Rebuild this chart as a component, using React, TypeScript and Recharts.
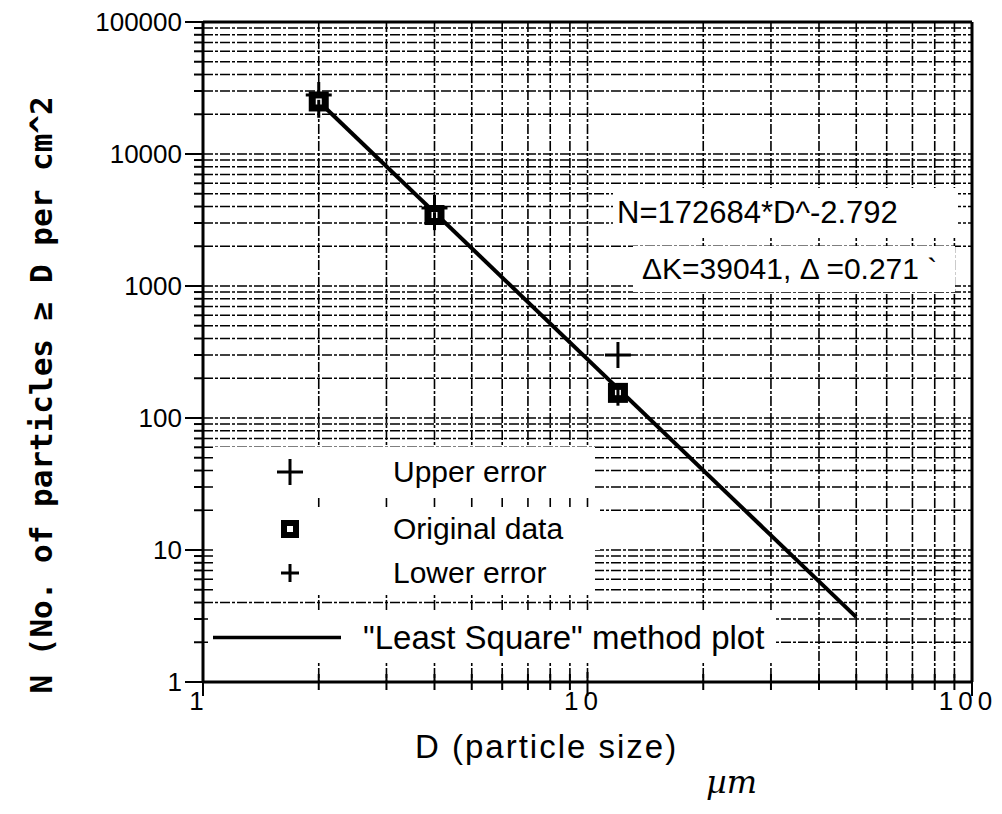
import React from "react";
import { ScatterChart, Scatter, XAxis, YAxis, CartesianGrid, ReferenceLine, Legend } from "recharts";

// particle sizes (um) and counts
const sizes = [2, 4, 12];
const original = [25000, 3450, 155];
const upperErr = [28000, 3900, 300];
const lowerErr = [22000, 3100, 145];

// least square fit line end points
const fitSizes = [2, 50];
const fitCounts = [25000, 3.1];

const xDecades = [1, 10, 100];
const yDecades = [1, 10, 100, 1000, 10000, 100000];
const minorSteps = [1, 2, 3, 4, 5, 6, 7, 8, 9];

const xTicks = [...xDecades.slice(0, -1).flatMap((d) => minorSteps.map((m) => d * m)), 100];
const yTicks = [...yDecades.slice(0, -1).flatMap((d) => minorSteps.map((m) => d * m)), 100000];

const NAME_UP = "Upper error";
const NAME_ORIG = "Original data";
const NAME_LOW = "Lower error";
const NAME_FIT = '"Least Square" method plot';

const toPoints = (xs: number[], ys: number[]) => xs.map((D, i) => ({ D, N: ys[i] }));

const sans = "'Liberation Sans', Arial, sans-serif";

const YTick = (props: any) => {
  const { x, y, payload } = props;
  const major = yDecades.includes(payload.value);
  return (
    <g>
      <line x1={x - (major ? 18 : 9)} x2={x} y1={y} y2={y} stroke="#000" strokeWidth={2} />
      {major && (
        <text x={x - 21} y={y} textAnchor="end" dominantBaseline="central" fontSize={26} fontFamily={sans} fill="#000">
          {payload.value}
        </text>
      )}
    </g>
  );
};

const XTick = (props: any) => {
  const { x, y, payload } = props;
  const major = xDecades.includes(payload.value);
  return (
    <g>
      <line x1={x} x2={x} y1={y - (major ? 10 : 8)} y2={y + (major ? 14 : 8)} stroke="#000" strokeWidth={2} />
      {major && (
        <text x={x - 4} y={y + 19} textAnchor="middle" dominantBaseline="central" fontSize={26} fontFamily={sans} letterSpacing={5} fill="#000">
          {payload.value}
        </text>
      )}
    </g>
  );
};

const SquareMark = (p: any) => (
  <g>
    <rect x={p.cx - 10} y={p.cy - 10} width={20} height={20} fill="#000" />
    <rect x={p.cx - 3} y={p.cy - 3} width={6} height={6} fill="#fff" />
  </g>
);

const PlusMark = (arm: number) => (p: any) => (
  <g stroke="#000" strokeWidth={3}>
    <line x1={p.cx - arm} x2={p.cx + arm} y1={p.cy} y2={p.cy} />
    <line x1={p.cx} x2={p.cx} y1={p.cy - arm} y2={p.cy + arm} />
  </g>
);

const NoMark = () => <g />;

const legendIcon = (name: string) => {
  if (name === NAME_UP)
    return (
      <svg width={30} height={30}>
        <line x1={2} x2={28} y1={15} y2={15} stroke="#000" strokeWidth={3} />
        <line x1={15} x2={15} y1={2} y2={28} stroke="#000" strokeWidth={3} />
      </svg>
    );
  if (name === NAME_ORIG)
    return (
      <svg width={30} height={30}>
        <rect x={6} y={6} width={18} height={18} fill="#000" />
        <rect x={12} y={12} width={6} height={6} fill="#fff" />
      </svg>
    );
  if (name === NAME_LOW)
    return (
      <svg width={30} height={30}>
        <line x1={6} x2={24} y1={15} y2={15} stroke="#000" strokeWidth={3} />
        <line x1={15} x2={15} y1={6} y2={24} stroke="#000" strokeWidth={3} />
      </svg>
    );
  return (
    <svg width={128} height={10}>
      <line x1={0} x2={128} y1={5} y2={5} stroke="#000" strokeWidth={3.5} />
    </svg>
  );
};

const legendOrder = [NAME_UP, NAME_ORIG, NAME_LOW, NAME_FIT];
const rowBoxes: Record<string, any> = {
  [NAME_UP]: { top: 0, left: 7, width: 380, height: 50 },
  [NAME_ORIG]: { top: 60, left: 7, width: 385, height: 43 },
  [NAME_LOW]: { top: 103, left: 7, width: 380, height: 45 },
  [NAME_FIT]: { top: 164, left: 0, width: 567, height: 51 },
};

const LegendBox = ({ payload }: any) => {
  const items = [...(payload || [])].sort(
    (a: any, b: any) => legendOrder.indexOf(a.value) - legendOrder.indexOf(b.value)
  );
  return (
    <div style={{ position: "relative", width: 570, height: 215 }}>
      {items.map((it: any) => {
        const box = rowBoxes[it.value];
        const isFit = it.value === NAME_FIT;
        return (
          <div
            key={it.value}
            style={{ position: "absolute", ...box, background: "#fff", fontFamily: sans, fontSize: isFit ? 33 : 30, color: "#000" }}
          >
            <div style={{ position: "absolute", left: isFit ? 5 : 60, top: "50%", transform: "translateY(-50%)", lineHeight: 0 }}>
              {legendIcon(it.value)}
            </div>
            <div style={{ position: "absolute", left: isFit ? 155 : 178, top: "50%", transform: "translateY(-50%)", whiteSpace: "nowrap", lineHeight: 1 }}>
              {it.value}
            </div>
          </div>
        );
      })}
    </div>
  );
};

export default function App() {
  return (
    <div style={{ position: "absolute", left: 0, top: 0, width: 1002, height: 814, background: "#fff" }}>
      <ScatterChart width={1002} height={814} margin={{ top: 22, right: 30, bottom: 82, left: 23 }}>
        <CartesianGrid stroke="#000" strokeWidth={1.6} strokeDasharray="10 2 3 2" />
        <XAxis
          type="number"
          dataKey="D"
          scale="log"
          domain={[1, 100]}
          ticks={xTicks}
          interval={0}
          height={50}
          tickSize={0}
          tickMargin={0}
          tickLine={false}
          tick={<XTick />}
          stroke="#000"
          strokeWidth={3}
          allowDataOverflow
          label={{
            content: () => (
              <g>
                <text x={415} y={758} fontSize={33} letterSpacing={2} fontFamily={sans} fill="#000">
                  D (particle size)
                </text>
                <text x={706} y={793} fontSize={32} fontStyle="italic" fontFamily="'DejaVu Serif', serif" fill="#000">
                  µm
                </text>
              </g>
            ),
          }}
        />
        <YAxis
          type="number"
          dataKey="N"
          scale="log"
          domain={[1, 100000]}
          ticks={yTicks}
          interval={0}
          width={180}
          tickSize={0}
          tickMargin={0}
          tickLine={false}
          tick={<YTick />}
          stroke="#000"
          strokeWidth={3}
          allowDataOverflow
          label={{
            content: () => (
              <text
                x={41}
                y={395}
                transform="rotate(-90, 41, 395)"
                textAnchor="middle"
                dominantBaseline="central"
                fontSize={31}
                fontWeight="bold"
                fontFamily="'DejaVu Sans Mono', monospace"
                fill="#000"
              >
                N (No. of particles ≥ D per cm^2
              </text>
            ),
          }}
        />
        <ReferenceLine y={100000} stroke="#000" strokeWidth={3} />
        <ReferenceLine x={100} stroke="#000" strokeWidth={3} />
        <Scatter
          name={NAME_FIT}
          data={toPoints(fitSizes, fitCounts)}
          line={{ stroke: "#000", strokeWidth: 4 }}
          shape={NoMark}
          legendType="line"
          isAnimationActive={false}
        />
        <Scatter name={NAME_UP} data={toPoints(sizes, upperErr)} shape={PlusMark(13)} isAnimationActive={false} />
        <Scatter name={NAME_ORIG} data={toPoints(sizes, original)} shape={SquareMark} isAnimationActive={false} />
        <Scatter name={NAME_LOW} data={toPoints(sizes, lowerErr)} shape={PlusMark(9)} isAnimationActive={false} />
        <Legend
          layout="vertical"
          align="center"
          verticalAlign="middle"
          content={<LegendBox />}
          wrapperStyle={{ left: 208, top: 447, width: 570, height: 215 }}
        />
      </ScatterChart>
      <div
        style={{
          position: "absolute",
          left: 613,
          top: 188,
          width: 345,
          height: 50,
          background: "#fff",
          fontFamily: sans,
          fontSize: 31,
          lineHeight: "50px",
          paddingLeft: 4,
          boxSizing: "border-box",
          whiteSpace: "nowrap",
        }}
      >
        N=172684*D^-2.792
      </div>
      <div
        style={{
          position: "absolute",
          left: 633,
          top: 246,
          width: 322,
          height: 46,
          background: "#fff",
          fontFamily: sans,
          fontSize: 30,
          lineHeight: "46px",
          paddingLeft: 9,
          boxSizing: "border-box",
          whiteSpace: "nowrap",
        }}
      >
        ΔK=39041, Δ =0.271 `
      </div>
    </div>
  );
}
